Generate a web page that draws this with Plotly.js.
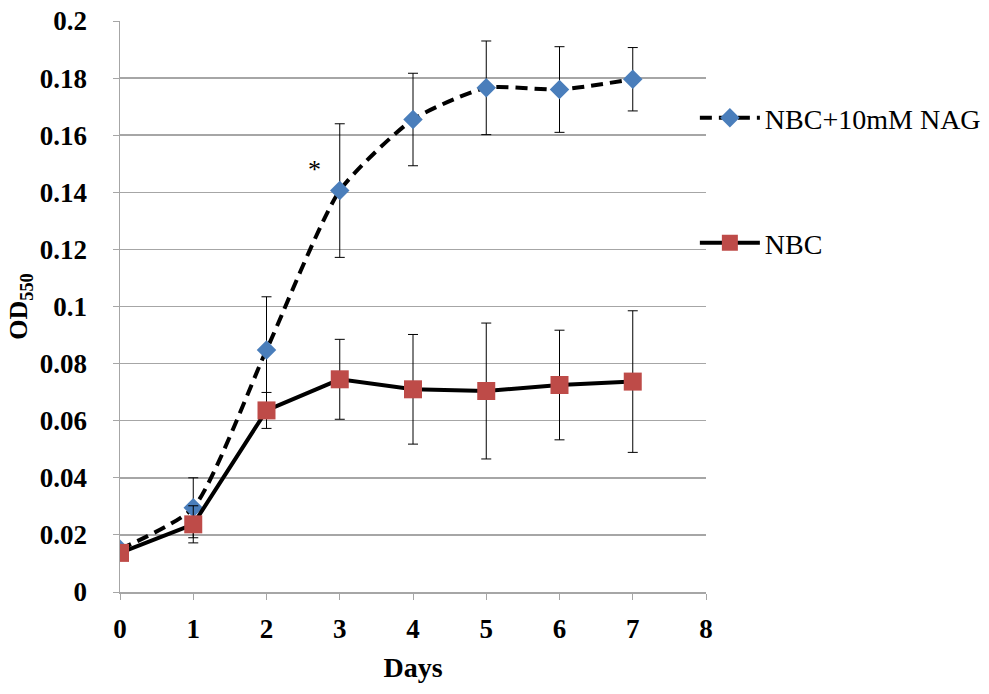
<!DOCTYPE html>
<html>
<head>
<meta charset="utf-8">
<script src="https://cdn.plot.ly/plotly-3.0.1.min.js"></script>
<style>html,body{margin:0;padding:0;background:#fff;}#chart{width:989px;height:694px;}</style>
</head>
<body>
<div id="chart"></div>
<script>
const days = [0, 1, 2, 3, 4, 5, 6, 7];
const nagValues = [0.015, 0.0295, 0.0848, 0.1406, 0.1655, 0.1766, 0.1760, 0.1796];
const nagErrors = [0.001, 0.0105, 0.0186, 0.0234, 0.0162, 0.0164, 0.0150, 0.0111];
const nbcValues = [0.0137, 0.0237, 0.0636, 0.0745, 0.0710, 0.0704, 0.0725, 0.0737];
const nbcErrors = [0.001, 0.0065, 0.0063, 0.0140, 0.0192, 0.0238, 0.0192, 0.0248];
const xTicks = [0, 1, 2, 3, 4, 5, 6, 7, 8];
const seriesNames = ['NBC+10mM NAG', 'NBC'];

const serif = 'Liberation Serif';

const traces = [
  {
    x: days, y: nagValues, name: seriesNames[0], type: 'scatter', mode: 'lines+markers',
    line: {color: '#000', width: 4, dash: '12px,7px', shape: 'spline', smoothing: 0.6},
    marker: {symbol: 'diamond', size: 15, color: '#4a7ebb'},
    error_y: {type: 'data', array: nagErrors, visible: true, color: '#000', thickness: 1, width: 5},
    legend: 'legend'
  },
  {
    x: days, y: nbcValues, name: seriesNames[1], type: 'scatter', mode: 'lines+markers',
    line: {color: '#000', width: 4},
    marker: {symbol: 'square', size: 18, color: '#be4b48'},
    error_y: {type: 'data', array: nbcErrors, visible: true, color: '#000', thickness: 1, width: 5},
    legend: 'legend2'
  }
];

const axisCommon = {
  showline: true, linecolor: '#a6a6a6', linewidth: 1.5,
  ticks: 'outside', ticklen: 6, tickcolor: '#a6a6a6',
  tickfont: {family: serif, size: 27, color: '#000', weight: 'bold'},
  zeroline: false
};

const layout = {
  width: 989, height: 694,
  margin: {l: 120, r: 283, t: 21, b: 102, autoexpand: false},
  paper_bgcolor: '#fff', plot_bgcolor: '#fff',
  font: {family: serif, color: '#000'},
  xaxis: Object.assign({}, axisCommon, {
    range: [0, 8], tickvals: xTicks, ticktext: xTicks.map(String), showgrid: false,
    ticklabelstandoff: 6,
    title: {text: '<b>Days</b>', font: {family: serif, size: 28, color: '#000'}, standoff: 14}
  }),
  yaxis: Object.assign({}, axisCommon, {
    range: [0, 0.2], dtick: 0.02, tick0: 0, showgrid: true, gridcolor: '#a6a6a6', gridwidth: 1.5,
    ticklabelstandoff: 20,
    title: {text: '<b>OD<sub>550</sub></b>', font: {family: serif, size: 26, color: '#000'}, standoff: 4}
  }),
  showlegend: true,
  legend: {x: 0.981, xanchor: 'left', y: 0.830, yanchor: 'middle', bgcolor: 'rgba(0,0,0,0)',
    font: {family: serif, size: 28, color: '#000'}, itemwidth: 60},
  legend2: {x: 0.981, xanchor: 'left', y: 0.611, yanchor: 'middle', bgcolor: 'rgba(0,0,0,0)',
    font: {family: serif, size: 28, color: '#000'}, itemwidth: 60},
  annotations: [
    {x: 2.65, y: 0.148, xref: 'x', yref: 'y', text: '*', showarrow: false,
     font: {family: serif, size: 26, color: '#000'}}
  ]
};

Plotly.newPlot('chart', traces, layout, {displayModeBar: false, staticPlot: true});
</script>
</body>
</html>
